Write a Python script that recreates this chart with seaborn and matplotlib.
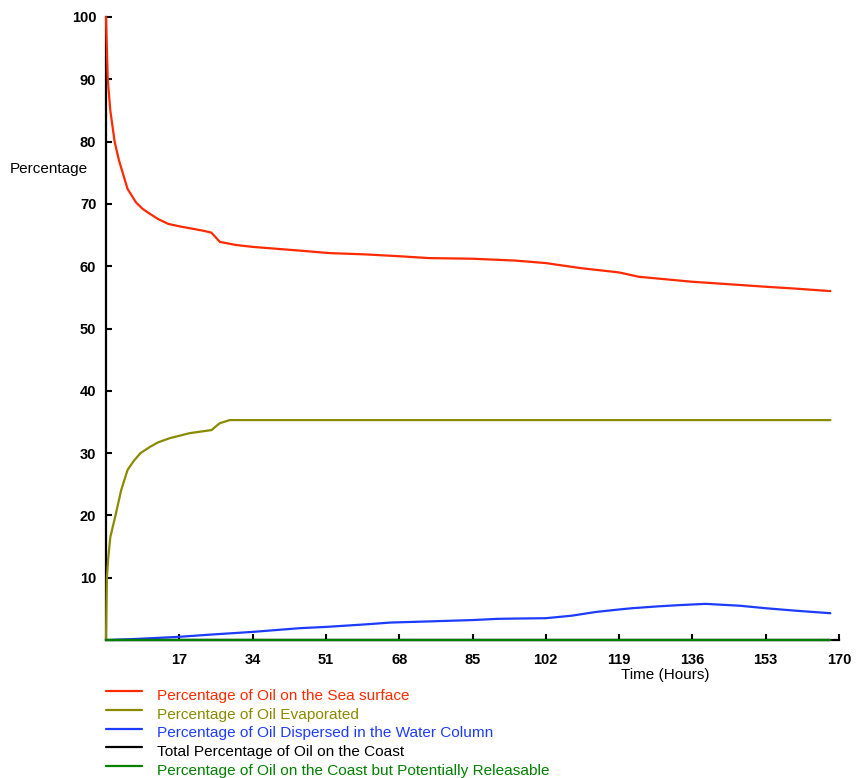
import numpy as np
import pandas as pd
import matplotlib
matplotlib.use("Agg")
import matplotlib.pyplot as plt
from matplotlib.lines import Line2D
import seaborn as sns

# Oil fate over time (hours) - percentages of the spilled volume
t_sea = [0, 0.4, 1, 2, 3, 5, 7, 8.5, 10.2, 12, 14.4, 17, 19.4, 22.5, 24.4, 25.5, 26.4,
         30.2, 34, 45, 51.9, 60, 68, 75, 85, 95, 102, 110, 119, 123.6, 136, 146.8, 153, 160, 168]
sea = [100, 90, 85, 80, 77, 72.4, 70.2, 69.2, 68.4, 67.6, 66.8, 66.4, 66.1, 65.7, 65.4, 64.6, 63.9,
       63.4, 63.1, 62.5, 62.1, 61.9, 61.6, 61.3, 61.2, 60.9, 60.5, 59.7, 59.0, 58.3, 57.5, 57.0, 56.7, 56.4, 56.0]

t_evap = [0, 0.2, 0.5, 1, 2.2, 3.5, 5, 6.5, 8, 10.2, 12, 14.8, 19.4, 24.5, 25.5, 26.4, 28.7, 168]
evap = [0, 10, 13, 16.5, 20, 24, 27.3, 28.8, 30, 31.0, 31.7, 32.4, 33.2, 33.7, 34.3, 34.8, 35.3, 35.3]

t_disp = [1.3, 8, 16.7, 25, 34, 45, 51, 60, 66, 75.7, 85, 91, 96, 102, 108, 113.6, 119, 122,
          128, 133, 139, 147, 153, 160, 168]
disp = [0, 0.2, 0.5, 0.9, 1.3, 1.9, 2.1, 2.5, 2.8, 3.0, 3.2, 3.4, 3.45, 3.5, 3.9, 4.5, 4.9, 5.1,
        5.4, 5.6, 5.8, 5.5, 5.1, 4.7, 4.3]

t_coast = [0, 168]
coast = [0, 0]
releasable = [0, 0]

series_names = [
    "Percentage of Oil on the Sea surface",
    "Percentage of Oil Evaporated",
    "Percentage of Oil Dispersed in the Water Column",
    "Total Percentage of Oil on the Coast",
    "Percentage of Oil on the Coast but Potentially Releasable",
]
series_colors = ["#FF2A00", "#8A8A00", "#1E3CFF", "#000000", "#008000"]

x_ticks = [17, 34, 51, 68, 85, 102, 119, 136, 153, 170]
y_ticks = [10, 20, 30, 40, 50, 60, 70, 80, 90, 100]

frames = [
    pd.DataFrame({"Time": t_sea, "Value": sea, "Series": series_names[0]}),
    pd.DataFrame({"Time": t_evap, "Value": evap, "Series": series_names[1]}),
    pd.DataFrame({"Time": t_disp, "Value": disp, "Series": series_names[2]}),
    pd.DataFrame({"Time": t_coast, "Value": coast, "Series": series_names[3]}),
    pd.DataFrame({"Time": t_coast, "Value": releasable, "Series": series_names[4]}),
]
df = pd.concat(frames, ignore_index=True)

sns.set_theme(style="white")
plt.rcParams["font.family"] = ["Liberation Sans", "DejaVu Sans"]

W, H = 856, 778
fig = plt.figure(figsize=(W / 100, H / 100), dpi=100)
ax = fig.add_axes([106 / W, 1 - 640 / H, (839 - 106) / W, (640 - 17) / H])

sns.lineplot(data=df, x="Time", y="Value", hue="Series", hue_order=series_names,
             palette=dict(zip(series_names, series_colors)), estimator=None, sort=False,
             linewidth=1.6, legend=False, ax=ax, zorder=3, clip_on=False)

ax.set_xlim(0, 170)
ax.set_ylim(0, 100)
ax.set_xticks(x_ticks)
ax.set_yticks(y_ticks)
ax.set_xticklabels([str(v) for v in x_ticks])
ax.set_yticklabels([str(v) for v in y_ticks])
ax.set_xlabel("")
ax.set_ylabel("")

for side in ("top", "right"):
    ax.spines[side].set_visible(False)
for side in ("left", "bottom"):
    ax.spines[side].set_color("black")
    ax.spines[side].set_linewidth(1.6)
    ax.spines[side].set_zorder(1)

ax.tick_params(axis="both", direction="in", length=4, width=1.5, colors="black",
               labelsize=10.5, left=True, bottom=True)
ax.tick_params(axis="y", pad=7)
ax.tick_params(axis="x", pad=9)
for lab in ax.get_xticklabels() + ax.get_yticklabels():
    lab.set_fontweight("bold")

fig.text(10 / W, 1 - 169 / H, "Percentage", fontsize=11, ha="left", va="center",
         color="black")
fig.text(665 / W, 1 - 675 / H, "Time (Hours)", fontsize=11, ha="center", va="center",
         color="black")

# Legend below the axes: short coloured line followed by a label in the same colour
row_pitch = 18.75
for i, (name, col) in enumerate(zip(series_names, series_colors)):
    y_line = 1 - (691 + row_pitch * i) / H
    y_text = 1 - (696 + row_pitch * i) / H
    fig.add_artist(Line2D([106 / W, 142 / W], [y_line, y_line], color=col,
                          linewidth=1.6, transform=fig.transFigure))
    fig.text(157 / W, y_text, name, color=col, fontsize=11.1, ha="left", va="center")

fig.savefig("out.png", dpi=100)
